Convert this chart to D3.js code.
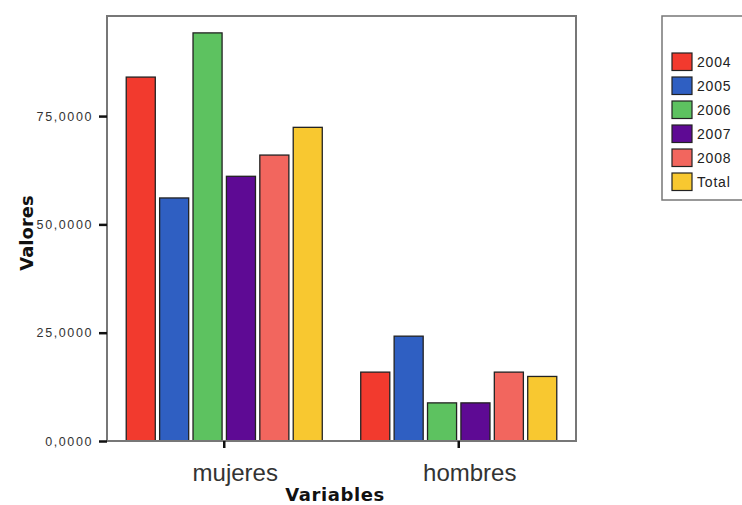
<!DOCTYPE html>
<html>
<head>
<meta charset="utf-8">
<script src="https://cdn.jsdelivr.net/npm/d3@7"></script>
<style>
  html, body { margin: 0; padding: 0; background: #fff; }
  svg { display: block; }
</style>
</head>
<body>
<svg id="chart" width="742" height="505"></svg>
<script>
const categories = ["mujeres", "hombres"];
const seriesNames = ["2004", "2005", "2006", "2007", "2008", "Total"];
const seriesColors = ["#f23a2e", "#2f5fc2", "#5dc260", "#5e0a94", "#f2665e", "#f8c830"];
const mujeresValues = [84.0, 56.1, 94.2, 61.1, 66.0, 72.4];
const hombresValues = [15.9, 24.2, 8.8, 8.8, 15.9, 14.9];
const yTicks = [0, 25, 50, 75];
const yMax = 98.1;

const valuesByCategory = { mujeres: mujeresValues, hombres: hombresValues };

const svg = d3.select("#chart");
const plot = { left: 107, top: 16, right: 576, bottom: 441 };

const y = d3.scaleLinear().domain([0, yMax]).range([plot.bottom, plot.top]);
const x0 = d3.scaleBand().domain(categories).range([plot.left, plot.right])
  .paddingInner(0.164).paddingOuter(0.082);
const x1 = d3.scaleBand().domain(seriesNames).range([0, x0.bandwidth()])
  .paddingInner(0.13).paddingOuter(0);
const color = d3.scaleOrdinal().domain(seriesNames).range(seriesColors);

// bars
const groups = svg.append("g").selectAll("g").data(categories).join("g")
  .attr("transform", d => `translate(${x0(d)},0)`);
groups.selectAll("rect")
  .data(c => seriesNames.map((s, i) => ({ s, v: valuesByCategory[c][i] })))
  .join("rect")
  .attr("x", d => x1(d.s))
  .attr("y", d => y(d.v))
  .attr("width", x1.bandwidth())
  .attr("height", d => y(0) - y(d.v))
  .attr("fill", d => color(d.s))
  .attr("stroke", "#222")
  .attr("stroke-width", 1.3);

// frame
svg.append("rect")
  .attr("x", plot.left).attr("y", plot.top)
  .attr("width", plot.right - plot.left).attr("height", plot.bottom - plot.top)
  .attr("fill", "none").attr("stroke", "#777").attr("stroke-width", 2);

// y axis
const fmt = v => d3.format(".4f")(v).replace(".", ",");
const yAxis = svg.append("g").attr("transform", `translate(${plot.left},0)`)
  .call(d3.axisLeft(y).tickValues(yTicks).tickFormat(fmt).tickSize(8).tickPadding(6));
yAxis.select(".domain").remove();
yAxis.selectAll(".tick line").attr("stroke", "#111").attr("stroke-width", 2.5);
yAxis.selectAll(".tick text")
  .attr("font-family", "Liberation Sans, Arial, sans-serif")
  .attr("font-size", 12.5).attr("letter-spacing", 1.6).attr("fill", "#333");

// x axis
const xAxis = svg.append("g").attr("transform", `translate(0,${plot.bottom})`)
  .call(d3.axisBottom(x0).tickSize(7).tickPadding(16));
xAxis.select(".domain").remove();
xAxis.selectAll(".tick line").attr("stroke", "#111").attr("stroke-width", 2.5);
xAxis.selectAll(".tick text")
  .attr("dx", 11)
  .attr("font-family", "Liberation Sans, Arial, sans-serif")
  .attr("font-size", 24).attr("fill", "#333");

// axis titles
svg.append("text")
  .attr("x", 335).attr("y", 501)
  .attr("text-anchor", "middle")
  .attr("font-family", "DejaVu Sans, sans-serif").attr("font-weight", "bold")
  .attr("font-size", 18).attr("letter-spacing", 0.6).attr("fill", "#111")
  .text("Variables");
svg.append("text")
  .attr("transform", "translate(33,233) rotate(-90)")
  .attr("text-anchor", "middle")
  .attr("font-family", "DejaVu Sans, sans-serif").attr("font-weight", "bold")
  .attr("font-size", 18).attr("fill", "#111")
  .text("Valores");

// legend
const lg = svg.append("g");
lg.append("rect")
  .attr("x", 662).attr("y", 16).attr("width", 90).attr("height", 184)
  .attr("fill", "#fff").attr("stroke", "#777").attr("stroke-width", 1.5);
const items = lg.selectAll("g.item").data(seriesNames).join("g")
  .attr("class", "item")
  .attr("transform", (d, i) => `translate(672,${53 + i * 24})`);
items.append("rect")
  .attr("width", 20).attr("height", 17.5)
  .attr("fill", d => color(d)).attr("stroke", "#222").attr("stroke-width", 1.2);
items.append("text")
  .attr("x", 25).attr("y", 14)
  .attr("font-family", "Liberation Sans, Arial, sans-serif")
  .attr("font-size", 14).attr("letter-spacing", 0.8).attr("fill", "#222")
  .text(d => d);
</script>
</body>
</html>
